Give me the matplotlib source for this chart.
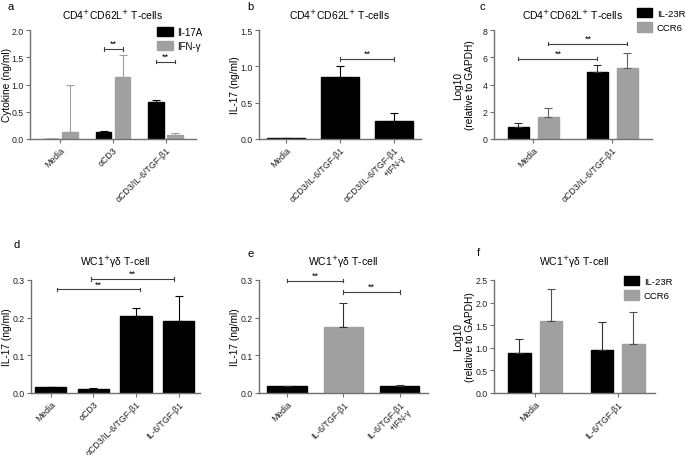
import numpy as np
import matplotlib.pyplot as plt
from matplotlib.patches import Patch

plt.rcParams['font.family'] = ['Liberation Sans', 'DejaVu Sans']
plt.rcParams['font.size'] = 7

BLACK = "#000000"
GREY = "#a0a0a0"
AXC = "#707070"

# === datos ===
a_cats = ["Media", "αCD3", "αCD3/IL-6/TGF-β1"]
a_il17 = [0.0, 0.12, 0.67]
a_il17_err = [0.0, 0.02, 0.04]
a_ifng = [0.13, 1.13, 0.08]
a_ifng_err = [0.87, 0.42, 0.03]

b_cats = ["Media", "αCD3/IL-6/TGF-β1", "αCD3/IL-6/TGF-β1\n+IFN-γ"]
b_vals = [0.01, 0.86, 0.25]
b_err = [0.0, 0.14, 0.11]

c_cats = ["Media", "αCD3/IL-6/TGF-β1"]
c_il23r = [0.9, 4.9]
c_il23r_err = [0.3, 0.5]
c_ccr6 = [1.6, 5.2]
c_ccr6_err = [0.65, 1.1]

d_cats = ["Media", "αCD3", "αCD3/IL-6/TGF-β1", "IL-6/TGF-β1"]
d_vals = [0.015, 0.011, 0.205, 0.19]
d_err = [0.001, 0.002, 0.02, 0.068]

e_cats = ["Media", "IL-6/TGF-β1", "IL-6/TGF-β1\n+IFN-γ"]
e_vals = [0.018, 0.175, 0.018]
e_err = [0.001, 0.063, 0.002]

f_cats = ["Media", "IL-6/TGF-β1"]
f_il23r = [0.88, 0.95]
f_il23r_err = [0.32, 0.63]
f_ccr6 = [1.6, 1.08]
f_ccr6_err = [0.7, 0.7]

fig = plt.figure(figsize=(6.85, 4.56), dpi=100)

def estilo(ax, ymax, ystep, cats, ylabel, title, xlim, labx, fmt="{:.1f}", tpad=8):
    for s in ["top", "right"]:
        ax.spines[s].set_visible(False)
    for s in ["left", "bottom"]:
        ax.spines[s].set_color(AXC)
        ax.spines[s].set_linewidth(1.0)
    ax.set_ylim(0, ymax)
    ax.set_xlim(*xlim)
    ticks = np.arange(0, ymax + ystep / 2, ystep)
    ax.set_yticks(ticks)
    ax.set_yticklabels([fmt.format(t) for t in ticks])
    ax.set_xticks(range(len(cats)))
    ax.set_xticklabels(cats, rotation=45, ha="right", rotation_mode="anchor", fontsize=6.3)
    ax.tick_params(axis="both", colors=AXC, labelcolor="#202020", length=3, width=0.8, pad=1.5)
    ax.tick_params(axis="y", labelsize=6.3)
    ax.set_ylabel(ylabel, fontsize=7.3, va="center")
    # posicion del ylabel en pixeles de la figura
    bb = ax.get_position()
    ax.yaxis.set_label_coords(labx / 685, bb.y0 + bb.height / 2, transform=fig.transFigure)
    ax.set_title(title, fontsize=7.5, pad=tpad)

def barras(ax, x, vals, err, color, width, ecolor):
    ax.bar(x, vals, width, color=color, edgecolor=color)
    ax.errorbar(x, vals, yerr=[np.zeros(len(err)), err], fmt="none",
                ecolor=ecolor, elinewidth=0.8, capsize=3, capthick=0.8)

def signo(ax, x1, x2, y, color="#404040"):
    h = ax.get_ylim()[1] * 0.015
    ax.plot([x1, x2], [y, y], color=color, lw=0.8, clip_on=False)
    ax.plot([x1, x1], [y - h, y + h], color=color, lw=0.8, clip_on=False)
    ax.plot([x2, x2], [y - h, y + h], color=color, lw=0.8, clip_on=False)
    ax.text((x1 + x2) / 2, y + h * 0.6, "**", ha="center", va="bottom", fontsize=6.5)

def letra(txt, x, y):
    fig.text(x / 685, 1 - y / 456, txt, fontsize=8, va="top", ha="left")

def leyenda(ax, anchor, loc):
    ax.legend(handles=[Patch(color=BLACK, label="IL-23R"), Patch(color=GREY, label="CCR6")],
              loc=loc, bbox_to_anchor=anchor, bbox_transform=fig.transFigure,
              frameon=False, fontsize=6.8, handlelength=1.6, handleheight=1.1,
              labelspacing=0.5, handletextpad=0.5, borderaxespad=0, borderpad=0)

# --- a ---
ax = fig.add_axes([0.044, 0.693, 0.242, 0.239])
x = np.arange(len(a_cats))
barras(ax, x - 0.18, a_il17, a_il17_err, BLACK, 0.3, BLACK)
barras(ax, x + 0.18, a_ifng, a_ifng_err, GREY, 0.3, GREY)
estilo(ax, 2.0, 0.5, a_cats, "Cytokine (ng/ml)", "CD4$^{+}$CD62L$^{+}$ T-cells", (-0.57, 2.57), 7)
signo(ax, 0.82, 1.18, 1.65)
signo(ax, 1.82, 2.18, 1.42)
ax.legend(handles=[Patch(color=BLACK, label="Il-17A"), Patch(color=GREY, label="IFN-γ")],
          loc="upper left", bbox_to_anchor=(157 / 685, 1 - 28 / 456), bbox_transform=fig.transFigure,
          frameon=False, fontsize=7, handlelength=1.6, handleheight=1.0,
          labelspacing=0.4, handletextpad=0.5, borderaxespad=0, borderpad=0)
letra("a", 8, 2)

# --- b ---
ax = fig.add_axes([0.378, 0.693, 0.2365, 0.239])
x = np.arange(len(b_cats))
barras(ax, x, b_vals, b_err, BLACK, 0.7, BLACK)
estilo(ax, 1.5, 0.5, b_cats, "IL-17 (ng/ml)", "CD4$^{+}$CD62L$^{+}$ T-cells", (-0.5, 2.5), 235)
signo(ax, 1.0, 2.0, 1.1)
letra("b", 247, 2)

# --- c ---
ax = fig.add_axes([0.721, 0.693, 0.2307, 0.239])
x = np.arange(len(c_cats))
barras(ax, x - 0.19, c_il23r, c_il23r_err, BLACK, 0.27, "#303030")
barras(ax, x + 0.19, c_ccr6, c_ccr6_err, GREY, 0.27, "#606060")
estilo(ax, 8, 2, c_cats, "Log10\n(relative to GAPDH)", "CD4$^{+}$CD62L$^{+}$ T-cells", (-0.5, 1.5), 464, "{:.0f}")
signo(ax, -0.19, 0.81, 5.9)
signo(ax, 0.19, 1.19, 7.0)
leyenda(ax, (637 / 685, 1 - 9 / 456), "upper left")
letra("c", 480, 2)

# --- d ---
ax = fig.add_axes([0.045, 0.136, 0.2467, 0.248])
x = np.arange(len(d_cats))
barras(ax, x, d_vals, d_err, BLACK, 0.73, BLACK)
estilo(ax, 0.3, 0.1, d_cats, "IL-17 (ng/ml)", "WC1$^{+}$γδ T-cell", (-0.47, 3.5), 7, tpad=11)
signo(ax, 0.15, 2.1, 0.275)
signo(ax, 0.95, 2.9, 0.302)
letra("d", 13, 240)

# --- e ---
ax = fig.add_axes([0.378, 0.136, 0.2467, 0.248])
x = np.arange(len(e_cats))
barras(ax, x, e_vals, e_err, [BLACK, GREY, BLACK], 0.7, "#303030")
estilo(ax, 0.3, 0.1, e_cats, "IL-17 (ng/ml)", "WC1$^{+}$γδ T-cell", (-0.5, 2.5), 235, tpad=11)
signo(ax, 0.0, 1.0, 0.298)
signo(ax, 1.0, 2.0, 0.268)
letra("e", 247, 249)

# --- f ---
ax = fig.add_axes([0.721, 0.136, 0.235, 0.248])
x = np.arange(len(f_cats))
barras(ax, x - 0.19, f_il23r, f_il23r_err, BLACK, 0.27, "#303030")
barras(ax, x + 0.19, f_ccr6, f_ccr6_err, GREY, 0.27, "#505050")
estilo(ax, 2.5, 0.5, f_cats, "Log10\n(relative to GAPDH)", "WC1$^{+}$γδ T-cell", (-0.5, 1.45), 464, tpad=11)
leyenda(ax, (624 / 685, 1 - 277 / 456), "upper left")
letra("f", 477, 248)

plt.savefig("out.png", dpi=100)
plt.close()
